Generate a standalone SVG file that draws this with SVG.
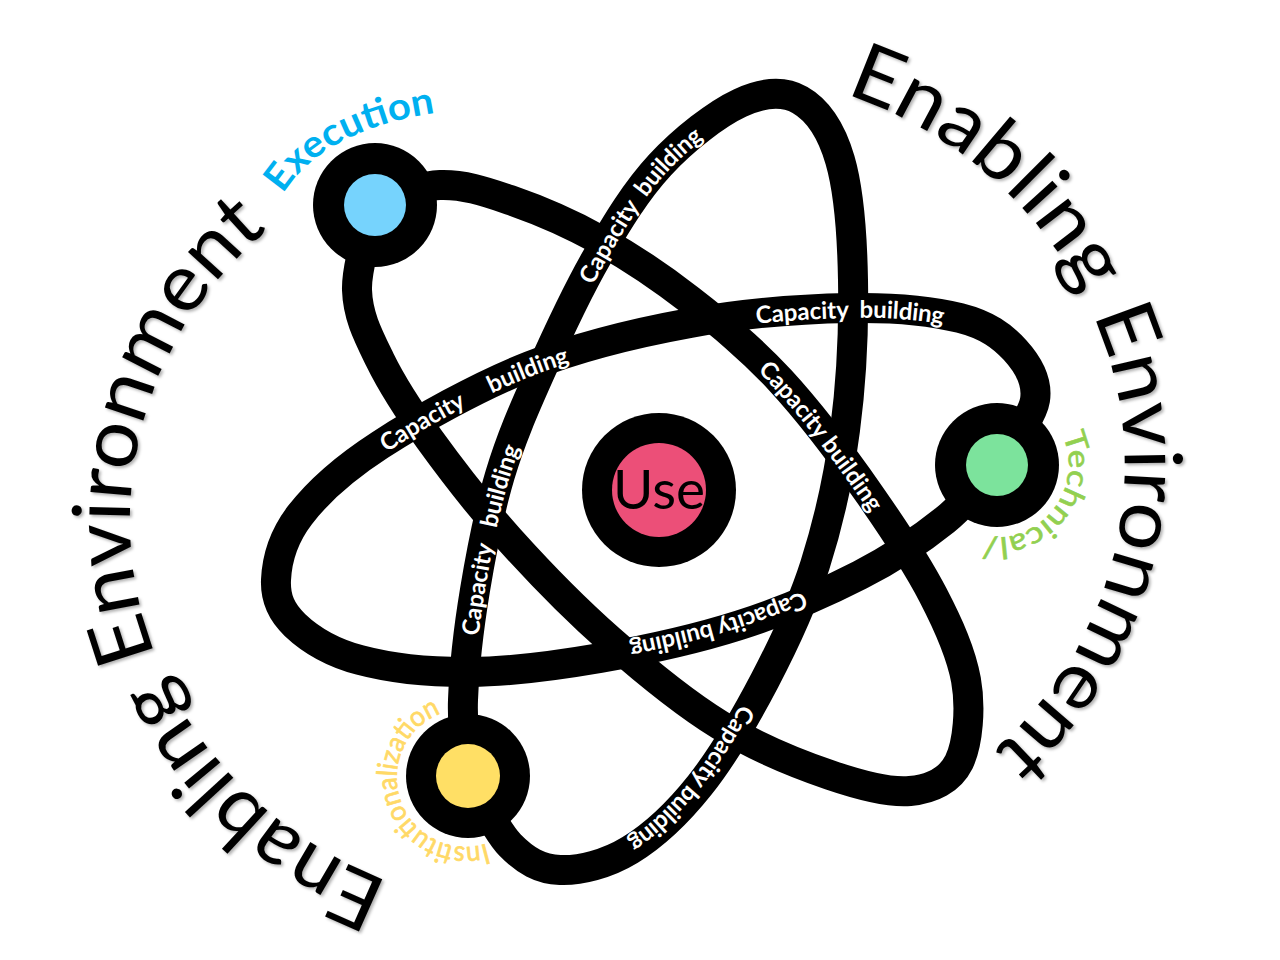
<svg xmlns="http://www.w3.org/2000/svg" xmlns:xlink="http://www.w3.org/1999/xlink" width="1280" height="960" viewBox="0 0 1280 960">
<style>
.orbit{fill:none;stroke:#000;stroke-width:30;stroke-linecap:round;stroke-linejoin:round}
.cb{font-family:Lato,"Open Sans",sans-serif;font-weight:700;font-size:24px;fill:#fff}
.big{font-family:Lato,"Open Sans",sans-serif;font-size:80px;fill:#000}
.ring{fill:#000}
.arcl{font-family:Lato,"Open Sans",sans-serif}
</style>
<defs>
<filter id="shadow" x="-10%" y="-10%" width="120%" height="120%">
<feDropShadow dx="2" dy="2" stdDeviation="1.5" flood-color="#000" flood-opacity="0.3"/>
</filter>
<path id="bigR" d="M845,94 A425,395 0 0 1 943.8,788.6"/>
<path id="bigL" d="M389.5,881.6 A415,390 0 0 1 267.3,230.2"/>
<path id="execP" d="M283,194 Q326,126 450,111"/>
<path id="techP" d="M1062.3,434.6 A73,73 0 0 1 970,532.8"/>
<path id="instP" d="M486.6,843.5 A68,68 0 1 1 445,712"/>
<path id="L1" d="M540,373 C556,337 577,292 597,257 C617,222 636,191 660,165 C684,139 717,114 740,103"/>
<path id="L2" d="M690,323 C743,313 805,309 850,308 C895,307 932,311 960,318"/>
<path id="L3" d="M300,515 C317,492 342,470 380,445 C418,420 478,386 530,366 C582,346 637,333 690,323"/>
<path id="L4" d="M690,300 C720,323 750,347 780,380 C810,412 845,459 870,495 C895,531 915,564 930,595"/>
<path id="L5" d="M463,700 C464,669 469,628 475,590 C481,553 489,511 500,475 C511,439 524,409 540,373"/>
<path id="L6" d="M860,575 C826,593 783,611 740,625 C697,639 645,650 600,658"/>
<path id="L7" d="M815,565 C802,607 784,643 765,680 C746,717 722,757 700,785 C677,813 653,836 630,850"/>
</defs>
<rect width="1280" height="960" fill="#fff"/>
<g id="connectors">
<path id="orbitA" class="orbit" d="M997,465 C988.3,474.2 967.8,501.7 945,520 C922.2,538.3 894.2,557.5 860,575 C825.8,592.5 783.3,611.2 740,625 C696.7,638.8 645,650.2 600,658 C555,665.8 510,671.7 470,672 C430,672.3 389.2,667.8 360,660 C330.8,652.2 309,638.3 295,625 C281,611.7 275.2,598.3 276,580 C276.8,561.7 282.7,537.5 300,515 C317.3,492.5 341.7,469.8 380,445 C418.3,420.2 478.3,386.3 530,366 C581.7,345.7 636.7,332.7 690,323 C743.3,313.3 805,308.8 850,308 C895,307.2 932.5,311 960,318 C987.5,325 1002.5,336.3 1015,350 C1027.5,363.7 1038,380.8 1035,400 C1032,419.2 1003.3,454.2 997,465"/>
<path id="orbitB" class="orbit" d="M375,205 C385.8,201.7 417.5,185.8 440,185 C462.5,184.2 483.3,190.8 510,200 C536.7,209.2 570,223.3 600,240 C630,256.7 660,276.7 690,300 C720,323.3 750,347.5 780,380 C810,412.5 845,459.2 870,495 C895,530.8 917,564.2 933,595 C949,625.8 961,652.5 966,680 C971,707.5 968,743 959,762 C950,780 932,789 910,791 C889.2,793 861.7,785.8 830,775 C798.3,764.2 756.7,747.5 720,725 C683.3,702.5 645,670.8 610,640 C575,609.2 540,573.3 510,540 C480,506.7 451.7,470 430,440 C408.3,410 392.2,385 380,360 C367.8,335 357.8,315.8 357,290 C356.2,264.2 372,219.2 375,205"/>
<path id="orbitC" class="orbit" d="M468,776 C467.2,763.3 461.8,731 463,700 C464.2,669 468.8,627.5 475,590 C481.2,552.5 489.2,511.2 500,475 C510.8,438.8 523.8,409.3 540,373 C556.2,336.7 577,291.7 597,257 C617,222.3 636.2,190.7 660,165 C683.8,139.3 716.7,113.8 740,103 C763.3,92.2 783.3,90.5 800,100 C816.7,109.5 831.2,130 840,160 C848.8,190 852.2,235 853,280 C853.8,325 851.3,382.5 845,430 C838.7,477.5 828.3,523.3 815,565 C801.7,606.7 784.2,643.3 765,680 C745.8,716.7 722.5,756.7 700,785 C677.5,813.3 653.3,835.8 630,850 C606.7,864.2 580,870.8 560,870 C540,869.2 525.3,860.7 510,845 C494.7,829.3 475,787.5 468,776"/>
<g id="orbit-labels" dominant-baseline="central">
<text class="cb"><textPath href="#L1" startOffset="197" text-anchor="middle">Capacity&#160; building</textPath></text>
<text class="cb"><textPath href="#L2" startOffset="161" text-anchor="middle">Capacity&#160; building</textPath></text>
<text class="cb"><textPath href="#L3" startOffset="212" text-anchor="middle">Capacity&#160;&#160;&#160;&#160; building</textPath></text>
<text class="cb"><textPath href="#L4" startOffset="190" text-anchor="middle">Capacity building</textPath></text>
<text class="cb"><textPath href="#L5" startOffset="163" text-anchor="middle">Capacity&#160;&#160; building</textPath></text>
<text class="cb"><textPath href="#L6" startOffset="151" text-anchor="middle">Capacity building</textPath></text>
<text class="cb"><textPath href="#L7" startOffset="250" text-anchor="middle">Capacity building</textPath></text>
</g>
</g>
<g id="node-use">
<circle class="ring" cx="659" cy="490" r="77"/>
<circle cx="659" cy="490" r="47" fill="#EC4F78"/>
<text x="659" y="509" text-anchor="middle" font-family="Lato,'Open Sans',sans-serif" font-size="55" fill="#000">Use</text>
</g>
<g id="node-execution">
<circle class="ring" cx="375" cy="205" r="62"/>
<circle cx="375" cy="205" r="31" fill="#76D3FD"/>
<text class="arcl" font-size="38" font-weight="700" fill="#00B0F0"><textPath href="#execP" textLength="178" lengthAdjust="spacingAndGlyphs">Execution</textPath></text>
</g>
<g id="node-technical">
<circle class="ring" cx="997" cy="465" r="62"/>
<circle cx="997" cy="465" r="31" fill="#7CE39C"/>
<text class="arcl" font-size="30" fill="#92D050" stroke="#92D050" stroke-width="0.6"><textPath href="#techP" textLength="158" lengthAdjust="spacingAndGlyphs">Technical/</textPath></text>
</g>
<g id="node-institutionalization">
<circle class="ring" cx="468" cy="776" r="62"/>
<circle cx="468" cy="776" r="32" fill="#FFDF65"/>
<text class="arcl" font-size="28" fill="#FFD966" stroke="#FFD966" stroke-width="0.7"><textPath href="#instP" textLength="212" lengthAdjust="spacingAndGlyphs">Institutionalization</textPath></text>
</g>
<g id="enabling-right" filter="url(#shadow)">
<text class="big"><textPath href="#bigR" textLength="820" lengthAdjust="spacingAndGlyphs">Enabling Environment</textPath></text>
</g>
<g id="enabling-left" filter="url(#shadow)">
<text class="big"><textPath href="#bigL" textLength="805" lengthAdjust="spacingAndGlyphs">Enabling Environment</textPath></text>
</g>
</svg>
